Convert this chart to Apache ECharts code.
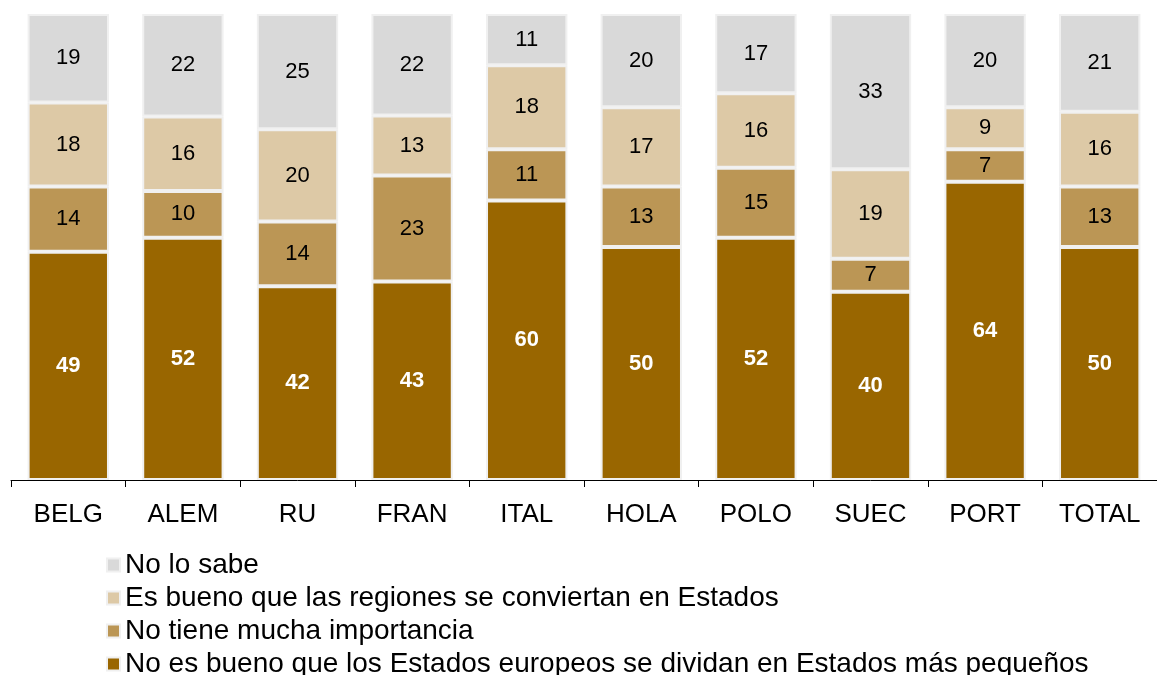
<!DOCTYPE html>
<html>
<head>
<meta charset="utf-8">
<script src="https://cdn.jsdelivr.net/npm/echarts@6/dist/echarts.min.js"></script>
<style>
html,body{margin:0;padding:0;background:#fff;}
#chart{width:1157px;height:675px;}
</style>
</head>
<body>
<div id="chart"></div>
<script>
// countries (short labels as in the source)
const categories=["BELG","ALEM","RU","FRAN","ITAL","HOLA","POLO","SUEC","PORT","TOTAL"];

// values per answer, bottom to top of each bar
const noEsBueno=[49,52,42,43,60,50,52,40,64,50];
const noTieneImportancia=[14,10,14,23,11,13,15,7,7,13];
const esBueno=[18,16,20,13,18,17,16,19,9,16];
const noLoSabe=[19,22,25,22,11,20,17,33,20,21];

const seriesNames=[
    "No es bueno que los Estados europeos se dividan en Estados más pequeños",
    "No tiene mucha importancia",
    "Es bueno que las regiones se conviertan en Estados",
    "No lo sabe"
];
const seriesColors=["#996600","#bb9655","#ddc9a6","#d9d9d9"];
const allValues=[noEsBueno,noTieneImportancia,esBueno,noLoSabe];

// each bar is drawn as 100%, label keeps the raw figure
const totals=categories.map((c,i)=>allValues.reduce((s,arr)=>s+arr[i],0));

const chart=echarts.init(document.getElementById("chart"));

const series=allValues.map((vals,k)=>({
    name:seriesNames[k],
    type:"bar",
    stack:"total",
    barWidth:"71%",
    data:vals.map((v,i)=>({value:v/totals[i]*100,raw:v})),
    itemStyle:{
        color:seriesColors[k],
        borderColor:"#f0f0f0",
        borderWidth:2
    },
    label:{
        show:true,
        position:"inside",
        fontFamily:"Liberation Sans",
        fontSize:22,
        fontWeight:k===0?"bold":"normal",
        color:k===0?"#ffffff":"#000000",
        formatter:p=>p.data.raw
    }
}));

chart.setOption({
    animation:false,
    legend:{
        orient:"vertical",
        left:101,
        top:546,
        height:130,
        itemWidth:13,
        itemHeight:13,
        itemGap:5,
        icon:"rect",
        data:[seriesNames[3],seriesNames[2],seriesNames[1],seriesNames[0]],
        textStyle:{
            fontFamily:"Liberation Sans",
            fontSize:28,
            lineHeight:27,
            color:"#000"
        }
    },
    grid:{
        left:11,
        right:-9,
        top:14,
        bottom:195,
        containLabel:false
    },
    xAxis:{
        type:"category",
        data:categories,
        axisLine:{lineStyle:{color:"#000",width:1}},
        axisTick:{show:true,length:7,lineStyle:{color:"#000"}},
        axisLabel:{
            fontFamily:"Liberation Sans",
            fontSize:26,
            color:"#000",
            margin:22
        }
    },
    yAxis:{
        type:"value",
        min:0,
        max:100,
        show:false,
        splitLine:{show:false}
    },
    series:series
});
</script>
</body>
</html>
